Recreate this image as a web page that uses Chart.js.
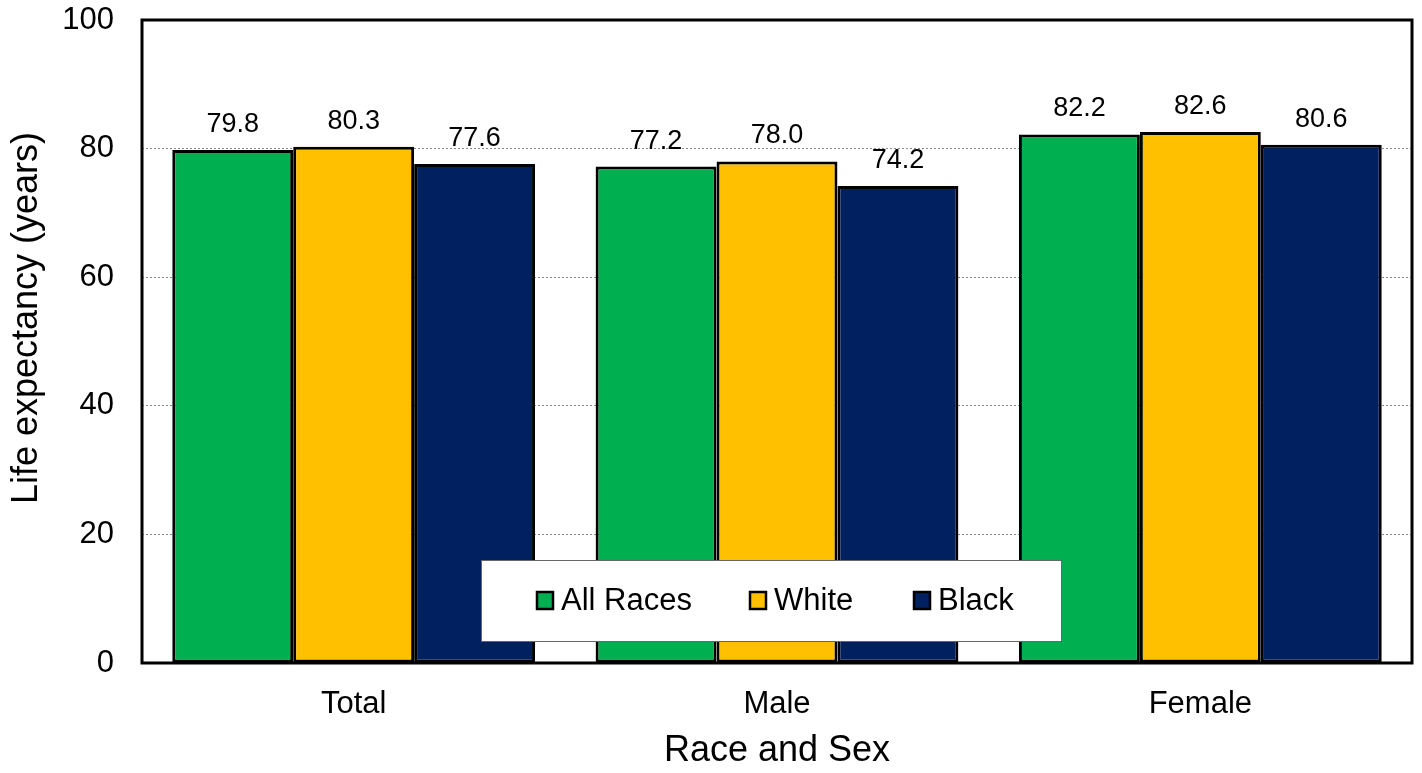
<!DOCTYPE html>
<html>
<head>
<meta charset="utf-8">
<script src="https://cdn.jsdelivr.net/npm/chart.js@4.4.1/dist/chart.umd.min.js"></script>
<style>
  html, body { margin: 0; padding: 0; background: #fff; }
  #wrap { width: 1422px; height: 773px; position: relative; }
</style>
</head>
<body>
<div id="wrap"><canvas id="chart" width="1422" height="773"></canvas></div>
<script>
const categories = ['Total', 'Male', 'Female'];
const seriesNames = ['All Races', 'White', 'Black'];
const allRaces = [79.8, 77.2, 82.2];
const white = [80.3, 78.0, 82.6];
const black = [77.6, 74.2, 80.6];
const yTicks = [0, 20, 40, 60, 80, 100];

const colors = ['#00B050', '#FFC000', '#002060'];
const FONT = '"Liberation Sans", Arial, sans-serif';

// value labels above each bar
const valueLabels = {
  id: 'valueLabels',
  afterDatasetsDraw(chart){
    const ctx = chart.ctx;
    ctx.save();
    ctx.font = '27px ' + FONT;
    ctx.fillStyle = '#000';
    ctx.textAlign = 'center';
    ctx.textBaseline = 'alphabetic';
    chart.data.datasets.forEach((ds, i) => {
      chart.getDatasetMeta(i).data.forEach((bar, j) => {
        ctx.fillText(ds.data[j].toFixed(1), bar.x, bar.y - 18);
      });
    });
    ctx.restore();
  }
};

// frame round the plot, y title, legend box inside the plot
const frameAndLegend = {
  id: 'frameAndLegend',
  afterDraw(chart){
    const ctx = chart.ctx;
    const a = chart.chartArea;
    ctx.save();
    ctx.strokeStyle = '#000';
    ctx.lineWidth = 3;
    ctx.strokeRect(a.left, a.top, a.right - a.left, a.bottom - a.top);

    // y axis title
    ctx.save();
    ctx.translate(27, 318);
    ctx.rotate(-Math.PI / 2);
    ctx.font = '36px ' + FONT;
    ctx.textAlign = 'center';
    ctx.textBaseline = 'middle';
    ctx.fillStyle = '#000';
    ctx.fillText('Life expectancy (years)', 0, 0);
    ctx.restore();

    // legend
    const bx = 481, by = 560, bw = 580, bh = 81;
    ctx.fillStyle = '#fff';
    ctx.fillRect(bx, by, bw, bh);
    ctx.lineWidth = 1;
    ctx.strokeStyle = '#666';
    ctx.strokeRect(bx + 0.5, by + 0.5, bw, bh);
    const swX = [537, 750, 914];
    ctx.font = '31px ' + FONT;
    ctx.textBaseline = 'middle';
    ctx.textAlign = 'left';
    chart.data.datasets.forEach((ds, i) => {
      ctx.fillStyle = ds.backgroundColor;
      ctx.fillRect(swX[i], 592, 16, 17);
      ctx.lineWidth = 2.5;
      ctx.strokeStyle = '#000';
      ctx.strokeRect(swX[i], 592, 16, 17);
      ctx.fillStyle = '#000';
      ctx.fillText(ds.label, swX[i] + 24, 601);
    });
    ctx.restore();
  }
};

new Chart(document.getElementById('chart'), {
  type: 'bar',
  data: {
    labels: categories,
    datasets: [allRaces, white, black].map((d, i) => ({
      label: seriesNames[i],
      data: d,
      backgroundColor: colors[i],
      borderColor: '#000',
      borderWidth: 3,
      borderSkipped: false,
      categoryPercentage: 0.857,
      barPercentage: 1.0
    }))
  },
  options: {
    responsive: false,
    animation: false,
    layout: { padding: { top: 20, right: 10, left: 0, bottom: 0 } },
    plugins: { legend: { display: false }, tooltip: { enabled: false } },
    scales: {
      x: {
        grid: { display: false, drawTicks: false },
        border: { display: false },
        ticks: { color: '#000', font: { family: FONT, size: 31 }, padding: 23 },
        title: { display: true, text: 'Race and Sex', color: '#000', font: { family: FONT, size: 36 }, padding: { top: 0, bottom: 0 } },
        afterFit(s){ s.height = 110; s.paddingLeft = 0; s.paddingRight = 0; }
      },
      y: {
        min: 0, max: 100,
        afterBuildTicks(s){ s.ticks = yTicks.map(v => ({ value: v })); },
        grid: { color: '#888', lineWidth: 1, drawTicks: false },
        border: { display: false, dash: [2, 2] },
        ticks: { color: '#000', font: { family: FONT, size: 31 }, padding: 28 },
        afterFit(s){ s.width = 142; s.paddingTop = 0; s.paddingBottom = 0; }
      }
    }
  },
  plugins: [valueLabels, frameAndLegend]
});
</script>
</body>
</html>
